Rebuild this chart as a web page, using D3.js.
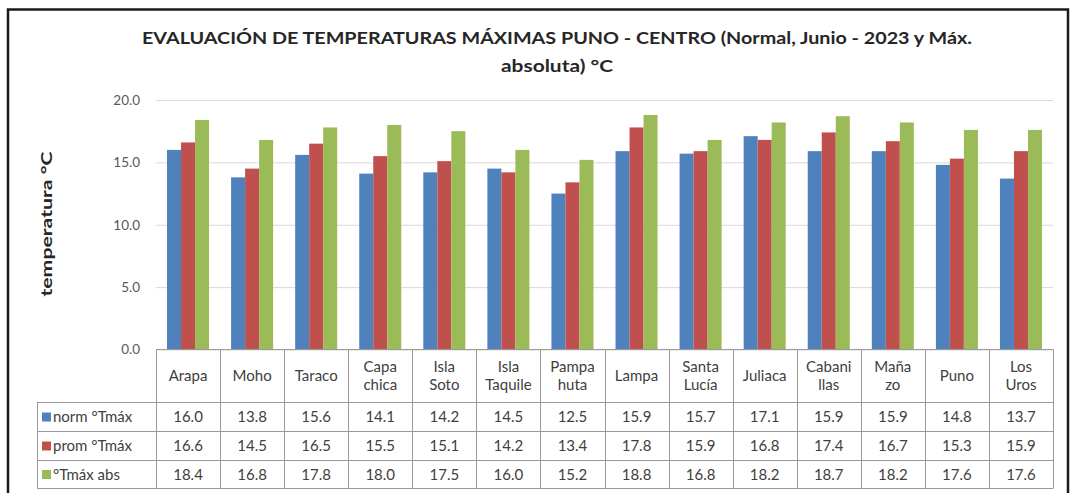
<!DOCTYPE html>
<html>
<head>
<meta charset="utf-8">
<script src="https://cdn.jsdelivr.net/npm/d3@7"></script>
<style>
  html, body { margin: 0; padding: 0; background: #fff; }
  svg { display: block; }
  text { font-family: Lato, "Open Sans", sans-serif; }
</style>
</head>
<body>
<svg id="chart" width="1073" height="493"></svg>
<script>
// Stations (header lines of the data table)
const categories = [
  ["Arapa"], ["Moho"], ["Taraco"], ["Capa", "chica"], ["Isla", "Soto"],
  ["Isla", "Taquile"], ["Pampa", "huta"], ["Lampa"], ["Santa", "Lucía"],
  ["Juliaca"], ["Cabani", "llas"], ["Maña", "zo"], ["Puno"], ["Los", "Uros"]
];
const seriesNames = ["norm °Tmáx", "prom °Tmáx", "°Tmáx abs"];
const normTmax = [16.0, 13.8, 15.6, 14.1, 14.2, 14.5, 12.5, 15.9, 15.7, 17.1, 15.9, 15.9, 14.8, 13.7];
const promTmax = [16.6, 14.5, 16.5, 15.5, 15.1, 14.2, 13.4, 17.8, 15.9, 16.8, 17.4, 16.7, 15.3, 15.9];
const absTmax  = [18.4, 16.8, 17.8, 18.0, 17.5, 16.0, 15.2, 18.8, 16.8, 18.2, 18.7, 18.2, 17.6, 17.6];
const yTicks = [0, 5, 10, 15, 20];
const seriesColors = ["#4f81bd", "#c0504d", "#9bbb59"];

const titleLines = [
  "EVALUACIÓN DE TEMPERATURAS MÁXIMAS PUNO - CENTRO (Normal, Junio - 2023 y Máx.",
  "absoluta) °C"
];

const series = [normTmax, promTmax, absTmax];
const catKeys = categories.map(c => c.join(" "));

const svg = d3.select("#chart");

// outer frame
svg.append("rect")
  .attr("x", 8).attr("y", 9.5).attr("width", 1060).attr("height", 486)
  .attr("fill", "none").attr("stroke", "#1a1a1a").attr("stroke-width", 2.5);

// plot area
const plotLeft = 156, plotRight = 1053, plotTop = 100, plotBottom = 349.5;

const x = d3.scaleBand().domain(catKeys).range([plotLeft, plotRight])
  .paddingInner(0.344).paddingOuter(0.172);
const xs = d3.scaleBand().domain(d3.range(series.length)).range([0, x.bandwidth()]);
const y = d3.scaleLinear().domain([0, 20]).range([plotBottom, plotTop]);

// title
svg.append("text")
  .attr("x", 557).attr("y", 44)
  .attr("text-anchor", "middle")
  .attr("font-size", 17).attr("font-weight", "bold").attr("fill", "#262626")
  .attr("textLength", 830).attr("lengthAdjust", "spacingAndGlyphs")
  .text(titleLines[0]);
svg.append("text")
  .attr("x", 557).attr("y", 72)
  .attr("text-anchor", "middle")
  .attr("font-size", 17).attr("font-weight", "bold").attr("fill", "#262626")
  .attr("textLength", 112).attr("lengthAdjust", "spacingAndGlyphs")
  .text(titleLines[1]);

// y axis with gridlines
const yAxis = svg.append("g")
  .attr("transform", `translate(${plotLeft},0)`)
  .call(d3.axisLeft(y).tickValues(yTicks).tickFormat(d3.format(".1f"))
    .tickSize(-(plotRight - plotLeft)).tickPadding(16));
yAxis.select(".domain").remove();
yAxis.selectAll(".tick line").attr("stroke", "#d9d9d9").attr("stroke-width", 1);
yAxis.selectAll(".tick text")
  .attr("font-size", 13.5).attr("fill", "#595959")
  .style("font-family", "Lato, sans-serif");

// y axis title
svg.append("text")
  .attr("transform", "translate(52,224) rotate(-90)")
  .attr("text-anchor", "middle")
  .attr("font-size", 16).attr("font-weight", "bold").attr("fill", "#262626")
  .attr("textLength", 145).attr("lengthAdjust", "spacingAndGlyphs")
  .text("temperatura °C");

// bars
const groups = svg.append("g").selectAll("g")
  .data(series)
  .join("g")
  .attr("fill", (d, i) => seriesColors[i]);
groups.each(function (vals, si) {
  d3.select(this).selectAll("rect")
    .data(vals)
    .join("rect")
    .attr("x", (v, ci) => x(catKeys[ci]) + xs(si))
    .attr("y", v => y(v))
    .attr("width", xs.bandwidth())
    .attr("height", v => y(0) - y(v));
});

// data table
const step = x.step();
const colLeft = ci => plotLeft + ci * step;
const headerTop = plotBottom, headerBottom = 402;
const rowEdges = [402, 431, 460, 488];
const legendLeft = 37;
const lineColor = "#9a9a9a";
const table = svg.append("g").attr("stroke", lineColor).attr("stroke-width", 1);

// horizontal lines
table.append("line").attr("x1", plotLeft).attr("x2", plotRight)
  .attr("y1", headerTop).attr("y2", headerTop);
rowEdges.forEach(yy => {
  table.append("line").attr("x1", legendLeft).attr("x2", plotRight)
    .attr("y1", yy + 0.5).attr("y2", yy + 0.5);
});
// vertical lines
d3.range(categories.length + 1).forEach(ci => {
  const xx = Math.round(colLeft(ci)) + 0.5;
  table.append("line").attr("x1", xx).attr("x2", xx)
    .attr("y1", headerTop).attr("y2", rowEdges[3] + 0.5);
});
table.append("line").attr("x1", legendLeft + 0.5).attr("x2", legendLeft + 0.5)
  .attr("y1", rowEdges[0] + 0.5).attr("y2", rowEdges[3] + 0.5);

// header labels
const hdr = svg.append("g");
categories.forEach((lines, ci) => {
  const cx = colLeft(ci) + step / 2;
  const cy = (headerTop + headerBottom) / 2;
  const n = lines.length;
  lines.forEach((ln, li) => {
    hdr.append("text")
      .attr("x", cx)
      .attr("y", cy + (li - (n - 1) / 2) * 18)
      .attr("dy", "0.35em")
      .attr("text-anchor", "middle")
      .attr("font-size", 15).attr("fill", "#404040")
      .text(ln);
  });
});

// rows: legend key + values
series.forEach((vals, si) => {
  const yTop = rowEdges[si], yBot = rowEdges[si + 1];
  const cy = (yTop + yBot) / 2 + 0.5;
  svg.append("rect")
    .attr("x", 42).attr("y", cy - 4.5).attr("width", 9).attr("height", 9)
    .attr("fill", seriesColors[si]);
  svg.append("text")
    .attr("x", 53).attr("y", cy).attr("dy", "0.35em")
    .attr("font-size", 15).attr("fill", "#404040")
    .text(seriesNames[si]);
  vals.forEach((v, ci) => {
    svg.append("text")
      .attr("x", colLeft(ci) + step / 2).attr("y", cy).attr("dy", "0.35em")
      .attr("text-anchor", "middle")
      .attr("font-size", 15).attr("fill", "#404040")
      .text(d3.format(".1f")(v));
  });
});
</script>
</body>
</html>
